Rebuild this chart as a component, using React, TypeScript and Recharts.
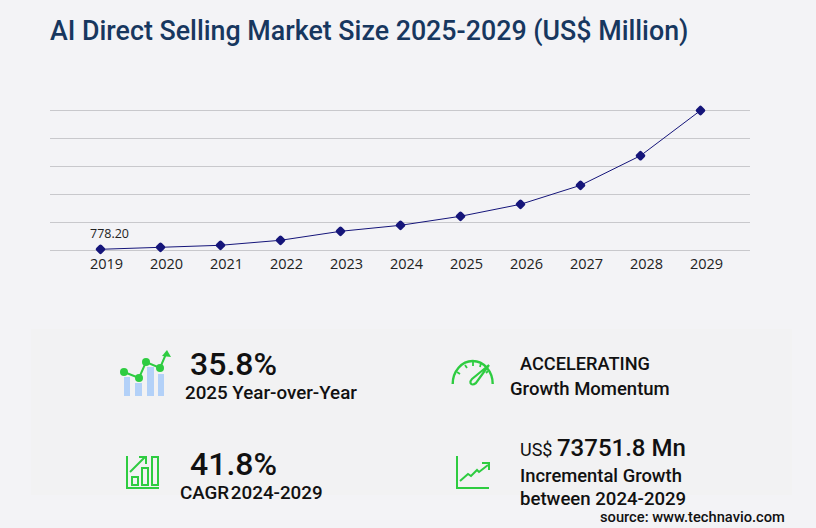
import { LineChart, Line, XAxis, YAxis, CartesianGrid } from "recharts"

const years = ["2019", "2020", "2021", "2022", "2023", "2024", "2025", "2026", "2027", "2028", "2029"]
const marketSize = [778.2, 2050, 3350, 6560, 12340, 16200, 22000, 29700, 41900, 60950, 90000]
const yTicks = [0, 18000, 36000, 54000, 72000, 90000]

const chartData = years.map((year, i) => ({ year, value: marketSize[i] }))

const GREEN = "#2ecc40"
const NAVY = "#15157a"

function Diamond({ cx, cy }: any) {
  return <rect x={cx - 3.9} y={cy - 3.9} width={7.8} height={7.8} rx={1.8} fill={NAVY} transform={`rotate(45 ${cx} ${cy})`} />
}

function FirstLabel({ x, y, index, value }: any) {
  if (index !== 0) return null
  return (
    <text x={x + 9} y={y - 11} textAnchor="middle" fontFamily="Open Sans" fontSize={12.5} fill="#222">
      {Number(value).toFixed(2)}
    </text>
  )
}

function Txt({ x, y, size, weight = 500, children }: any) {
  return (
    <div
      style={{
        position: "absolute",
        left: x,
        top: y,
        fontFamily: "Roboto",
        fontSize: size,
        fontWeight: weight,
        lineHeight: 1,
        color: "#111",
        whiteSpace: "nowrap",
      }}
    >
      {children}
    </div>
  )
}

function Icons() {
  return (
    <svg width={816} height={528} style={{ position: "absolute", left: 0, top: 0 }}>
      {/* growth bars + line */}
      <g fill="#b3d1f8">
        <rect x={124} y={377} width={6} height={19} />
        <rect x={135} y={383} width={7} height={13} />
        <rect x={147} y={367} width={7} height={29} />
        <rect x={158} y={374} width={6} height={22} />
      </g>
      <polyline points="124,372 139,378 146,362 160,368 166,354" fill="none" stroke={GREEN} strokeWidth={2} />
      <g fill={GREEN}>
        <circle cx={124} cy={372} r={4} />
        <circle cx={139} cy={378} r={4} />
        <circle cx={146} cy={362} r={4} />
        <circle cx={160} cy={368} r={4} />
        <polygon points="167,350 171,357 162,356" />
      </g>

      {/* bar chart with arrow */}
      <g fill="none" stroke={GREEN} strokeWidth={2}>
        <polyline points="127,456 127,488 159,488" />
        <rect x={132} y={477} width={6} height={8} />
        <rect x={142} y={468} width={6} height={17} />
        <rect x={152} y={457} width={6} height={28} />
        <polyline points="130,472 145,457" />
        <polyline points="139,457 146,457 146,464" />
      </g>

      {/* speedometer */}
      <g fill="none" stroke={GREEN}>
        <path d="M452.7 384 A20 23 0 0 1 492.7 384" strokeWidth={2.4} />
        <path d="M457 372 L460 374 M465 365 L467 368 M473 362 L473 366 M481 363 L480 367 M488 371 L486 373" strokeWidth={1.8} />
      </g>
      <path d="M489 365 L476 383 Q472 386 470.5 383 Q470 381 472 379 Z" fill="none" stroke={GREEN} strokeWidth={2.2} />

      {/* line chart arrow */}
      <g fill="none" stroke={GREEN} strokeWidth={2}>
        <polyline points="457,456 457,488 489,488" />
        <polyline points="460,481 468,474 471,476 477,470 479,472 488,465" />
        <polyline points="482,463 489,463 489,470" />
      </g>
    </svg>
  )
}

export default function App() {
  return (
    <div style={{ position: "absolute", left: 0, top: 0, width: 816, height: 528, background: "#f3f3f6", overflow: "hidden" }}>
      <div
        style={{
          position: "absolute",
          left: 50,
          top: 16,
          fontFamily: "Roboto",
          fontSize: 26.8,
          fontWeight: 500,
          lineHeight: "30px",
          color: "#17375f",
          whiteSpace: "nowrap",
        }}
      >
        AI Direct Selling Market Size 2025-2029 (US$ Million)
      </div>

      <div style={{ position: "absolute", left: 0, top: 90 }}>
        <LineChart width={816} height={200} data={chartData} margin={{ top: 20.5, right: 66, bottom: 9.5, left: 50 }}>
          <CartesianGrid vertical={false} stroke="#c8c8cc" strokeWidth={1} />
          <XAxis
            dataKey="year"
            scale="point"
            padding={{ left: 50.5, right: 49.5 }}
            axisLine={false}
            tickLine={false}
            interval={0}
            dx={6}
            tick={{ fontFamily: "Open Sans", fontSize: 14.5, fill: "#222" }}
          />
          <YAxis hide domain={[0, 90000]} ticks={yTicks} interval={0} />
          <Line
            dataKey="value"
            stroke={NAVY}
            strokeWidth={1}
            dot={<Diamond />}
            activeDot={false}
            label={<FirstLabel />}
            isAnimationActive={false}
          />
        </LineChart>
      </div>

      <div style={{ position: "absolute", left: 31, top: 329, width: 761, height: 166, background: "#f2f2f3" }} />
      <Icons />

      <Txt x={190} y={348} size={32}>35.8%</Txt>
      <Txt x={185} y={384} size={18.8}>2025 Year-over-Year</Txt>
      <Txt x={190} y={448} size={32}>41.8%</Txt>
      <Txt x={180} y={484} size={18.8}><span style={{ wordSpacing: -3 }}>CAGR 2024-2029</span></Txt>

      <Txt x={520} y={355} size={18.2}>ACCELERATING</Txt>
      <Txt x={510} y={380} size={18.5}>Growth Momentum</Txt>
      <Txt x={520} y={436} size={18} weight={400}>US$ <span style={{ fontSize: 24, fontWeight: 500 }}>73751.8 Mn</span></Txt>
      <Txt x={520} y={467} size={18.4}>Incremental Growth</Txt>
      <Txt x={520} y={490} size={18.6}>between 2024-2029</Txt>
      <Txt x={600} y={510} size={14.7}>source: www.technavio.com</Txt>
    </div>
  )
}
